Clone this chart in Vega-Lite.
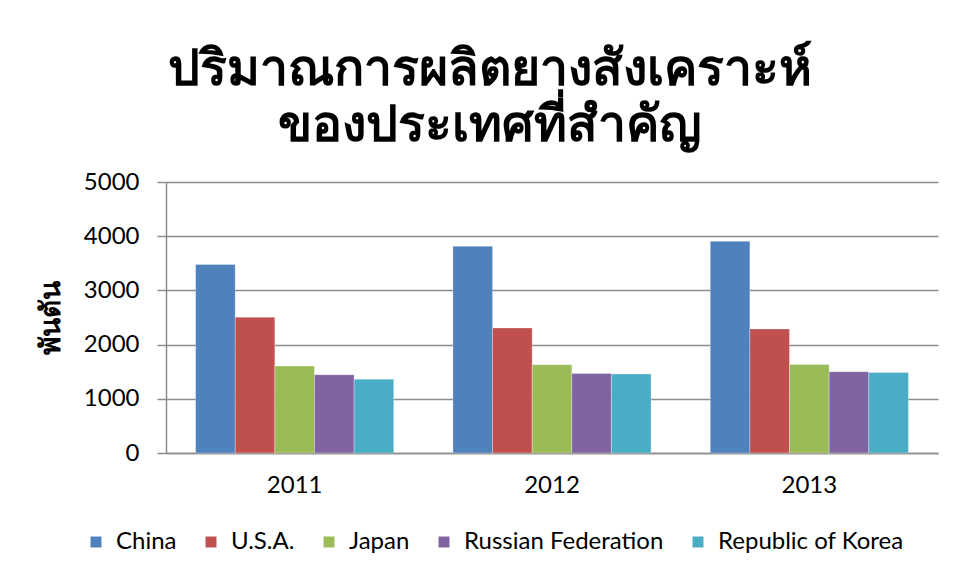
{
  "$schema": "https://vega.github.io/schema/vega-lite/v6.json",
  "width": 772,
  "height": 271,
  "autosize": {"type": "none"},
  "padding": {"left": 166, "top": 182, "right": 17, "bottom": 122},
  "background": "white",
  "title": {
    "text": ["ปริมาณการผลิตยางสังเคราะห์", "ของประเทศที่สำคัญ"],
    "font": "Noto Sans",
    "fontSize": 50,
    "fontWeight": "bold",
    "color": "black",
    "anchor": "middle",
    "dx": -62,
    "lineHeight": 56,
    "offset": 19
  },
  "data": {
    "values": [
      {"year": "2011", "country": "China", "value": 3480},
      {"year": "2011", "country": "U.S.A.", "value": 2505},
      {"year": "2011", "country": "Japan", "value": 1604},
      {"year": "2011", "country": "Russian Federation", "value": 1444},
      {"year": "2011", "country": "Republic of Korea", "value": 1363},
      {"year": "2012", "country": "China", "value": 3815},
      {"year": "2012", "country": "U.S.A.", "value": 2308},
      {"year": "2012", "country": "Japan", "value": 1630},
      {"year": "2012", "country": "Russian Federation", "value": 1469},
      {"year": "2012", "country": "Republic of Korea", "value": 1456},
      {"year": "2013", "country": "China", "value": 3907},
      {"year": "2013", "country": "U.S.A.", "value": 2289},
      {"year": "2013", "country": "Japan", "value": 1635},
      {"year": "2013", "country": "Russian Federation", "value": 1500},
      {"year": "2013", "country": "Republic of Korea", "value": 1487}
    ]
  },
  "mark": {"type": "bar", "stroke": "white", "strokeWidth": 0.6, "strokeOpacity": 0.5},
  "encoding": {
    "x": {
      "field": "year",
      "type": "nominal",
      "scale": {"paddingInner": 0.23, "paddingOuter": 0.115},
      "axis": {
        "title": null,
        "labelAngle": 0,
        "labelFont": "Lato",
        "labelFontSize": 24,
        "labelColor": "black",
        "labelPadding": 20,
        "ticks": false,
        "domainColor": "#8c8c8c",
        "domainWidth": 1.5,
        "grid": false
      }
    },
    "xOffset": {
      "field": "country",
      "type": "nominal",
      "sort": ["China", "U.S.A.", "Japan", "Russian Federation", "Republic of Korea"],
      "scale": {"paddingInner": 0, "paddingOuter": 0}
    },
    "y": {
      "field": "value",
      "type": "quantitative",
      "scale": {"domain": [0, 5000], "nice": false},
      "axis": {
        "title": "พันตัน",
        "titleFont": "Noto Sans",
        "titleFontSize": 28,
        "titleFontWeight": "bold",
        "titleColor": "black",
        "titlePadding": 18,
        "values": [0, 1000, 2000, 3000, 4000, 5000],
        "format": "d",
        "labelFont": "Lato",
        "labelFontSize": 24,
        "labelColor": "black",
        "labelPadding": 18,
        "tickSize": 9,
        "tickColor": "#8c8c8c",
        "tickWidth": 1.5,
        "domainColor": "#8c8c8c",
        "domainWidth": 1.5,
        "gridColor": "#8c8c8c",
        "gridWidth": 1.5
      }
    },
    "color": {
      "field": "country",
      "type": "nominal",
      "sort": ["China", "U.S.A.", "Japan", "Russian Federation", "Republic of Korea"],
      "scale": {
        "domain": ["China", "U.S.A.", "Japan", "Russian Federation", "Republic of Korea"],
        "range": ["#4f81bd", "#c0504d", "#9bbb59", "#8064a2", "#4bacc6"]
      },
      "legend": {
        "title": null,
        "orient": "none",
        "direction": "horizontal",
        "legendX": -82,
        "legendY": 348,
        "symbolType": "square",
        "symbolSize": 120,
        "symbolStrokeWidth": 0,
        "symbolOpacity": 1,
        "labelFont": "Lato",
        "labelFontSize": 24,
        "labelColor": "black",
        "labelOffset": 8,
        "columnPadding": 22,
        "labelLimit": 300
      }
    }
  },
  "config": {
    "view": {"stroke": null}
  }
}
